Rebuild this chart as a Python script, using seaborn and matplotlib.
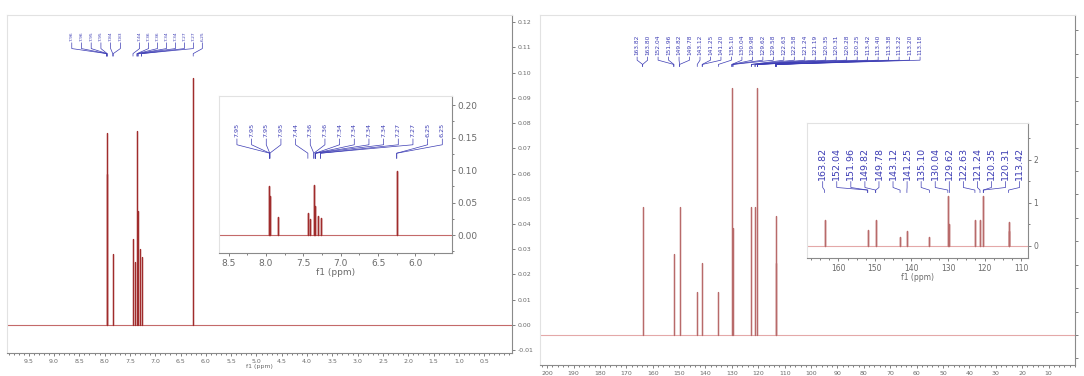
import numpy as np
import pandas as pd
import matplotlib
matplotlib.use("Agg")
import matplotlib.pyplot as plt
import seaborn as sns
from matplotlib.ticker import MultipleLocator, FixedLocator

# 1H NMR peaks (ppm, intensity)
h_ppm = [7.96, 7.95, 7.84, 7.44, 7.41, 7.36, 7.34, 7.30, 7.27, 6.25]
h_int = [0.076, 0.060, 0.028, 0.034, 0.025, 0.077, 0.045, 0.030, 0.027, 0.098]

# 13C NMR peaks (ppm, intensity)
c_ppm = [163.8, 152.0, 149.8, 143.1, 141.2, 135.1, 130.0, 129.6, 122.6, 121.2, 120.3, 113.4, 113.2]
c_int = [0.60, 0.38, 0.60, 0.20, 0.34, 0.20, 1.16, 0.50, 0.60, 0.60, 1.16, 0.56, 0.34]

# peak labels
h_labels_a = ["7.96", "7.96", "7.95", "7.95", "7.84", "7.83"]
h_labels_b = ["7.44", "7.36", "7.36", "7.34", "7.34", "7.27", "7.27", "6.25"]
h_labels_inset = ["7.95", "7.95", "7.95", "7.95", "7.44", "7.36", "7.36", "7.34",
                  "7.34", "7.34", "7.34", "7.27", "7.27", "6.25", "6.25"]
c_labels = ["163.82", "163.80", "152.04", "151.96", "149.82", "149.78", "143.12",
            "141.25", "141.20", "135.10", "130.04", "129.98", "129.62", "129.58",
            "122.63", "122.58", "121.24", "121.19", "120.35", "120.31", "120.28",
            "120.25", "113.42", "113.40", "113.38", "113.22", "113.20", "113.18"]
c_labels_inset = ["163.82", "152.04", "151.96", "149.82", "149.78", "143.12", "141.25",
                  "135.10", "130.04", "129.62", "122.63", "121.24", "120.35", "120.31",
                  "113.42"]

h_xticks = [9.5, 9.0, 8.5, 8.0, 7.5, 7.0, 6.5, 6.0, 5.5, 5.0, 4.5, 4.0, 3.5, 3.0, 2.5, 2.0, 1.5, 1.0, 0.5]
h_yticks = [-0.01, 0.0, 0.01, 0.02, 0.03, 0.04, 0.05, 0.06, 0.07, 0.08, 0.09, 0.10, 0.11, 0.12]
h_inset_xticks = [8.5, 8.0, 7.5, 7.0, 6.5, 6.0]
h_inset_yticks = [0.0, 0.05, 0.10, 0.15, 0.20]
c_xticks = list(range(200, 5, -10))
c_inset_xticks = [160, 150, 140, 130, 120, 110]
c_inset_yticks = [0, 1, 2]

W, H = 1084, 376
PEAK_H = "#a02c2c"
PEAK_C = "#b86a6a"
BASE_H = "#c46a6a"
BASE_C = "#e4a8a8"
BLUE = "#3c3cb4"
GREY = "#6a6a6a"
LIGHT = "#e2e2e2"


def box(x0, y0, x1, y1):
    return [x0 / W, 1 - y1 / H, (x1 - x0) / W, (y1 - y0) / H]


def sticks(ppm, inten):
    rows = []
    for i, (p, v) in enumerate(zip(ppm, inten)):
        rows += [(i, p, 0.0), (i, p, v), (i, p, 0.0)]
    return pd.DataFrame(rows, columns=["peak", "ppm", "int"])


def draw_spectrum(ax, ppm, inten, color, base, lw):
    ax.axhline(0, color=base, lw=0.8, zorder=1)
    sns.lineplot(data=sticks(ppm, inten), x="ppm", y="int", units="peak",
                 estimator=None, sort=False, color=color, lw=lw, ax=ax, zorder=2)
    ax.set_xlabel("")
    ax.set_ylabel("")


def label_peaks(ax, labels, x0, x1, y_text, y1, y2, y3, y4, fs):
    xs = np.linspace(x0, x1, len(labels))
    for xl, lab in zip(xs, labels):
        tp = float(lab)
        ax.text(xl, y_text, lab, rotation=90, ha="center", va="bottom",
                fontsize=fs, color=BLUE, clip_on=False)
        ax.plot([xl, xl, tp, tp], [y1, y2, y3, y4], color=BLUE, lw=0.5,
                clip_on=False, zorder=3)


def style_axes(ax, fs, spine_col="#8a8a8a"):
    for s in ["left", "top"]:
        ax.spines[s].set_color(LIGHT)
        ax.spines[s].set_linewidth(0.8)
    for s in ["right", "bottom"]:
        ax.spines[s].set_color(spine_col)
        ax.spines[s].set_linewidth(0.8)
    ax.yaxis.tick_right()
    ax.tick_params(axis="both", which="both", direction="out", colors=GREY,
                   labelsize=fs, length=2.5, width=0.6, pad=1.5)
    ax.tick_params(axis="both", which="minor", length=1.5)
    ax.set_facecolor("white")


sns.set_theme(style="ticks")
plt.rcParams["font.family"] = ["DejaVu Sans"]

fig = plt.figure(figsize=(W / 100, H / 100), dpi=100)
fig.patch.set_facecolor("white")

# ---------------- left: 1H spectrum ----------------
ax1 = fig.add_axes(box(7, 15, 512, 353))
draw_spectrum(ax1, h_ppm, h_int, PEAK_H, BASE_H, 0.9)
ax1.set_xlim(9.93, -0.05)
ax1.set_ylim(-0.0111, 0.1228)
ax1.xaxis.set_major_locator(FixedLocator(h_xticks))
ax1.set_xticklabels([f"{t:.1f}" for t in h_xticks])
ax1.xaxis.set_minor_locator(MultipleLocator(0.1))
ax1.yaxis.set_major_locator(FixedLocator(h_yticks))
ax1.set_yticklabels([f"{t:.2f}" for t in h_yticks])
style_axes(ax1, 4.5)
ax1.set_xlabel("f1 (ppm)", fontsize=4.5, color=GREY, labelpad=0)
label_peaks(ax1, h_labels_a, 8.65, 7.69, 0.1125, 0.1118, 0.1095, 0.1075, 0.1065, 3.2)
label_peaks(ax1, h_labels_b, 7.31, 6.07, 0.1125, 0.1118, 0.1095, 0.1075, 0.1065, 3.2)

ax1i = fig.add_axes(box(219, 96, 452, 253))
draw_spectrum(ax1i, h_ppm, h_int, PEAK_H, BASE_H, 1.0)
ax1i.set_xlim(8.63, 5.51)
ax1i.set_ylim(-0.0275, 0.214)
ax1i.xaxis.set_major_locator(FixedLocator(h_inset_xticks))
ax1i.set_xticklabels([f"{t:.1f}" for t in h_inset_xticks])
ax1i.xaxis.set_minor_locator(MultipleLocator(0.25))
ax1i.yaxis.set_major_locator(FixedLocator(h_inset_yticks))
ax1i.set_yticklabels([f"{t:.2f}" for t in h_inset_yticks])
ax1i.yaxis.set_minor_locator(MultipleLocator(0.025))
style_axes(ax1i, 6.5)
ax1i.set_xlabel("f1 (ppm)", fontsize=6.5, color=GREY, labelpad=0)
label_peaks(ax1i, h_labels_inset, 8.39, 5.64, 0.151, 0.148, 0.139, 0.126, 0.118, 4.6)

# ---------------- right: 13C spectrum ----------------
ax2 = fig.add_axes(box(540, 15, 1075, 365))
draw_spectrum(ax2, c_ppm, c_int, PEAK_C, BASE_C, 0.9)
ax2.set_xlim(202.7, 0)
ax2.set_ylim(-0.141, 1.502)
ax2.xaxis.set_major_locator(FixedLocator(c_xticks))
ax2.set_xticklabels([str(t) for t in c_xticks])
ax2.xaxis.set_minor_locator(MultipleLocator(2))
ax2.yaxis.set_major_locator(MultipleLocator(0.11))
ax2.set_yticklabels([])
style_axes(ax2, 4.5)
label_peaks(ax2, c_labels, 165.9, 58.7, 1.315, 1.305, 1.29, 1.27, 1.26, 4.2)

ax2i = fig.add_axes(box(807, 123, 1028, 258))
draw_spectrum(ax2i, c_ppm, c_int, PEAK_C, BASE_C, 1.0)
ax2i.set_xlim(168.6, 108.1)
ax2i.set_ylim(-0.28, 2.86)
ax2i.xaxis.set_major_locator(FixedLocator(c_inset_xticks))
ax2i.set_xticklabels([str(t) for t in c_inset_xticks])
ax2i.xaxis.set_minor_locator(MultipleLocator(2.5))
ax2i.yaxis.set_major_locator(FixedLocator(c_inset_yticks))
ax2i.set_yticklabels([str(t) for t in c_inset_yticks])
ax2i.yaxis.set_minor_locator(MultipleLocator(0.5))
style_axes(ax2i, 5.5)
ax2i.set_xlabel("f1 (ppm)", fontsize=5.5, color=GREY, labelpad=0)
label_peaks(ax2i, c_labels_inset, 164.3, 110.4, 1.53, 1.50, 1.36, 1.30, 1.24, 6.8)

fig.savefig("out.png", dpi=100, facecolor="white")
